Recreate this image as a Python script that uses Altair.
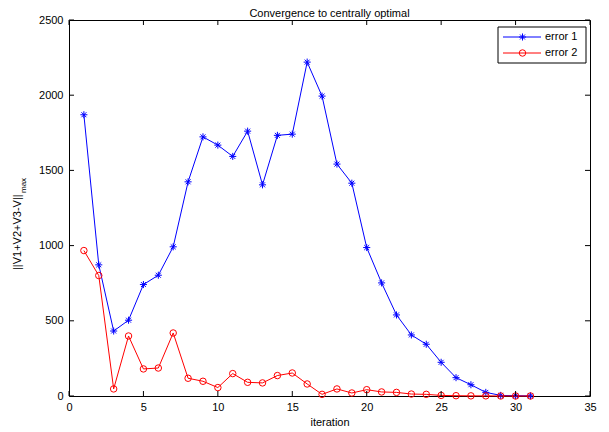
import altair as alt
import pandas as pd

# ---------------- data ----------------
iterations = list(range(1, 32))
error1 = [1870, 872, 432, 504, 741, 803, 992, 1424, 1723, 1668, 1593, 1761, 1404,
          1733, 1741, 2220, 1994, 1542, 1415, 987, 752, 539, 406, 344, 224, 122,
          75, 24, 4, 2, 1]
error2 = [967, 801, 47, 399, 180, 186, 419, 118, 98, 56, 149, 91, 87, 136, 153,
          80, 11, 47, 20, 42, 27, 24, 13, 11, 4, 2, 1, 1, 0, 0, 0]
series_names = ["error 1", "error 2"]
series_colors = ["#0000ff", "#ff0000"]
x_ticks = [0, 5, 10, 15, 20, 25, 30, 35]
y_ticks = [0, 500, 1000, 1500, 2000, 2500]
title_text = "Convergence to centrally optimal"
x_title = "iteration"
y_title_main = "||V1+V2+V3-V||"
y_title_sub = "max"

# ---------------- style ----------------
W, H = 521, 376
FONT = "Liberation Sans"
FS = 11
TICK = 5
ASTERISK = "M-1,0L1,0M0,-1L0,1M-0.7,-0.7L0.7,0.7M-0.7,0.7L0.7,-0.7"
shapes = [ASTERISK, "circle"]
sizes = [50, 42]

df = pd.DataFrame({
    "iteration": iterations * 2,
    "value": error1 + error2,
    "series": [series_names[0]] * len(error1) + [series_names[1]] * len(error2),
})

x_scale = alt.Scale(domain=[0, 35], nice=False, zero=False)
y_scale = alt.Scale(domain=[0, 2500], nice=False)

x_axis = alt.Axis(values=x_ticks, ticks=False, domain=False, grid=False, format="d",
                  labelFont=FONT, labelFontSize=FS, labelColor="black",
                  labelPadding=5, labelFlush=False, labelOverlap=False,
                  title=x_title, titleFont=FONT, titleFontSize=FS,
                  titleFontWeight="normal", titleColor="black", titlePadding=4)
y_axis = alt.Axis(values=y_ticks, ticks=False, domain=False, grid=False, format="d",
                  labelFont=FONT, labelFontSize=FS, labelColor="black",
                  labelPadding=6, labelFlush=False, labelOverlap=False,
                  title=None)

layers = []
for i, name in enumerate(series_names):
    sub = alt.Chart(df).transform_filter(alt.datum.series == name)
    enc_x = alt.X("iteration:Q", scale=x_scale, axis=x_axis)
    enc_y = alt.Y("value:Q", scale=y_scale, axis=y_axis)
    layers.append(sub.mark_line(color=series_colors[i], strokeWidth=1).encode(x=enc_x, y=enc_y))
    layers.append(sub.mark_point(shape=shapes[i], filled=False, color=series_colors[i],
                                 strokeWidth=1, size=sizes[i], opacity=1).encode(x=enc_x, y=enc_y))

# inward ticks on all four sides
xt = alt.Chart(pd.DataFrame({"t": x_ticks}))
yt = alt.Chart(pd.DataFrame({"t": y_ticks}))
tx = alt.X("t:Q", scale=x_scale, axis=x_axis)
ty = alt.Y("t:Q", scale=y_scale, axis=y_axis)
layers.append(xt.mark_rule(color="black", strokeWidth=1).encode(x=tx, y=alt.value(H), y2=alt.value(H - TICK)))
layers.append(xt.mark_rule(color="black", strokeWidth=1).encode(x=tx, y=alt.value(0), y2=alt.value(TICK)))
layers.append(yt.mark_rule(color="black", strokeWidth=1).encode(y=ty, x=alt.value(0), x2=alt.value(TICK)))
layers.append(yt.mark_rule(color="black", strokeWidth=1).encode(y=ty, x=alt.value(W), x2=alt.value(W - TICK)))

one = alt.Chart(pd.DataFrame({"a": [0]}))

# legend box
layers.append(one.mark_rect(fill="white", stroke="black", strokeWidth=1).encode(
    x=alt.value(429), x2=alt.value(517), y=alt.value(7), y2=alt.value(43)))
leg_rows = [17, 33]
for i, name in enumerate(series_names):
    yy = leg_rows[i]
    layers.append(one.mark_rule(color=series_colors[i], strokeWidth=1).encode(
        x=alt.value(434), x2=alt.value(472), y=alt.value(yy)))
    layers.append(one.mark_point(shape=shapes[i], filled=False, color=series_colors[i],
                                 strokeWidth=1, size=sizes[i], opacity=1).encode(
        x=alt.value(453.5), y=alt.value(yy)))
    layers.append(one.mark_text(font=FONT, fontSize=FS, color="black", align="left",
                                baseline="middle").encode(
        x=alt.value(476), y=alt.value(yy), text=alt.value(name)))

# title
layers.append(one.mark_text(font=FONT, fontSize=FS, color="black", align="center",
                            baseline="alphabetic").encode(
    x=alt.value(W / 2), y=alt.value(-3), text=alt.value(title_text)))

# y label with subscript
layers.append(one.mark_text(font=FONT, fontSize=FS, color="black", angle=270,
                            align="left", baseline="middle").encode(
    x=alt.value(-51), y=alt.value(250), text=alt.value(y_title_main)))
layers.append(one.mark_text(font=FONT, fontSize=8, color="black", angle=270,
                            align="left", baseline="middle").encode(
    x=alt.value(-45), y=alt.value(173), text=alt.value(y_title_sub)))

chart = alt.layer(*layers).properties(
    width=W, height=H,
    autosize=alt.AutoSizeParams(type="none"),
    padding={"left": 61, "top": 12, "right": 11, "bottom": 34},
    background="white",
).configure_view(stroke="black", strokeWidth=1)

chart.save("out.html", embed_options={"renderer": "svg", "actions": False})
